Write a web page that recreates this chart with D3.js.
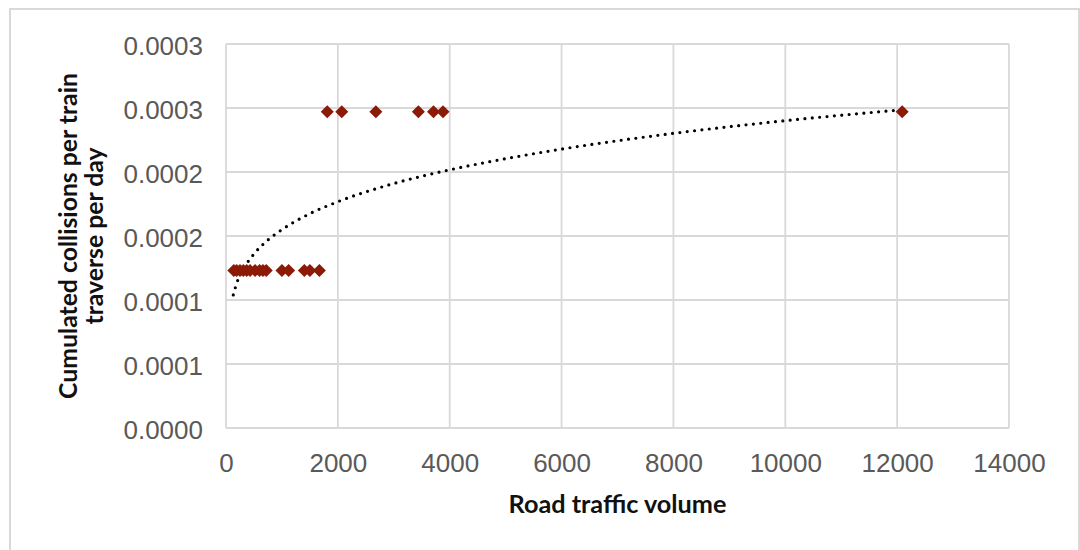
<!DOCTYPE html>
<html>
<head>
<meta charset="utf-8">
<script src="https://cdn.jsdelivr.net/npm/d3@7"></script>
<style>
  html, body { margin: 0; padding: 0; background: #fff; }
  svg { display: block; }
</style>
</head>
<body>
<svg id="chart" width="1080" height="550"></svg>
<script>
// ---- data ----
const lowTrafficX = [140, 190, 250, 310, 370, 430, 520, 600, 660, 720, 1000, 1120, 1400, 1500, 1670];
const lowCollisionsY = [0.000123, 0.000123, 0.000123, 0.000123, 0.000123, 0.000123, 0.000123, 0.000123,
                        0.000123, 0.000123, 0.000123, 0.000123, 0.000123, 0.000123, 0.000123];
const highTrafficX = [1810, 2070, 2680, 3440, 3710, 3880, 12090];
const highCollisionsY = [0.000247, 0.000247, 0.000247, 0.000247, 0.000247, 0.000247, 0.000247];

// trendline (power) points
const trendX = [130, 200, 300, 500, 750, 1000, 1500, 2000, 3000, 4000, 5000, 6000, 8000, 10000, 12090];
const trendY = [0.0001040, 0.0001142, 0.0001234, 0.0001360, 0.0001469, 0.0001550, 0.0001675, 0.0001768,
                0.0001910, 0.0002017, 0.0002104, 0.0002179, 0.0002302, 0.0002401, 0.0002486];

const xTickValues = [0, 2000, 4000, 6000, 8000, 10000, 12000, 14000];
const xTickLabels = ["0", "2000", "4000", "6000", "8000", "10000", "12000", "14000"];
const yTickValues = [0, 0.00005, 0.0001, 0.00015, 0.0002, 0.00025, 0.0003];
const yTickLabels = ["0.0000", "0.0001", "0.0001", "0.0002", "0.0002", "0.0003", "0.0003"];

const xTitle = "Road traffic volume";
const yTitleLines = ["Cumulated collisions per train", "traverse per day"];

// ---- layout ----
(function () {
const svg = d3.select("#chart");
const pLeft = 226, pRight = 1009, pTop = 44, pBottom = 428;
const x = d3.scaleLinear().domain([0, 14000]).range([pLeft, pRight]);
const y = d3.scaleLinear().domain([0, 0.0003]).range([pBottom, pTop]);

// outer border
svg.append("rect")
  .attr("x", 10).attr("y", 9).attr("width", 1069).attr("height", 560)
  .attr("fill", "none").attr("stroke", "#d9d9d9").attr("stroke-width", 2);

// gridlines
const grid = svg.append("g");
grid.selectAll("line.h").data(yTickValues).join("line").attr("class", "h")
  .attr("x1", pLeft).attr("x2", pRight)
  .attr("y1", d => y(d)).attr("y2", d => y(d))
  .attr("stroke", "#d9d9d9").attr("stroke-width", 1.8);
grid.selectAll("line.v").data(xTickValues).join("line").attr("class", "v")
  .attr("y1", pTop).attr("y2", pBottom)
  .attr("x1", d => x(d)).attr("x2", d => x(d))
  .attr("stroke", "#d9d9d9").attr("stroke-width", 1.8);

// axes (labels only)
const yAxis = d3.axisLeft(y).tickValues(yTickValues).tickFormat((d, i) => yTickLabels[i]).tickSize(0).tickPadding(0);
const gy = svg.append("g").attr("transform", `translate(${pLeft - 23},0)`).call(yAxis);
gy.select(".domain").remove();
gy.selectAll("text")
  .attr("font-family", "'Liberation Sans', Arial, sans-serif")
  .attr("font-size", 26).attr("fill", "#595959").attr("dy", "0.42em");

const xAxis = d3.axisBottom(x).tickValues(xTickValues).tickFormat((d, i) => xTickLabels[i]).tickSize(0).tickPadding(0);
const gx = svg.append("g").attr("transform", `translate(0,${pBottom + 26})`).call(xAxis);
gx.select(".domain").remove();
gx.selectAll("text")
  .attr("font-family", "'Liberation Sans', Arial, sans-serif")
  .attr("font-size", 26).attr("fill", "#595959").attr("dy", "0.7em");

// titles
function fitWidth(sel, target) {
  const w = sel.node().getComputedTextLength();
  const fs = parseFloat(sel.attr("font-size"));
  const nfs = fs * target / w;
  sel.attr("font-size", nfs);
  return nfs;
}
const titleFont = "Lato, 'Open Sans', sans-serif";
const xt = svg.append("text")
  .attr("x", (pLeft + pRight) / 2).attr("y", 513)
  .attr("text-anchor", "middle")
  .attr("font-family", titleFont).attr("font-weight", 700)
  .attr("font-size", 22).attr("fill", "#111")
  .text(xTitle);
fitWidth(xt, 218);

const yTitleX = [77, 103];
let yFs = 22;
yTitleLines.forEach((line, i) => {
  const t = svg.append("text")
    .attr("transform", `translate(${yTitleX[i]},236) rotate(-90)`)
    .attr("text-anchor", "middle")
    .attr("font-family", titleFont).attr("font-weight", 700)
    .attr("font-size", yFs).attr("fill", "#111")
    .text(line);
  if (i === 0) yFs = fitWidth(t, 326);
});

// trendline
const trendData = trendX.map((d, i) => [d, trendY[i]]);
svg.append("path")
  .datum(trendData)
  .attr("d", d3.line().x(d => x(d[0])).y(d => y(d[1])).curve(d3.curveMonotoneX))
  .attr("fill", "none").attr("stroke", "#000").attr("stroke-width", 3.2)
  .attr("stroke-linecap", "round").attr("stroke-dasharray", "0 7.4");

// points
const points = lowTrafficX.map((d, i) => [d, lowCollisionsY[i]])
  .concat(highTrafficX.map((d, i) => [d, highCollisionsY[i]]));
const r = 6.5;
svg.append("g").selectAll("path").data(points).join("path")
  .attr("d", d => {
    const cx = x(d[0]), cy = y(d[1]);
    return `M${cx},${cy - r}L${cx + r},${cy}L${cx},${cy + r}L${cx - r},${cy}Z`;
  })
  .attr("fill", "#8b1a06");
})();
</script>
</body>
</html>
